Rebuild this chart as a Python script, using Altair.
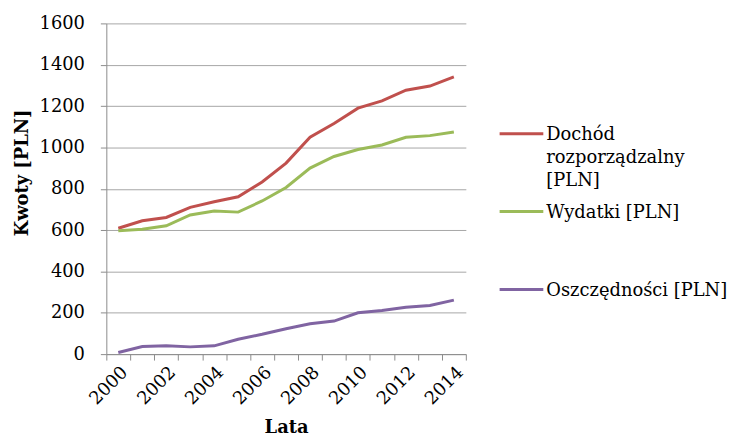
import altair as alt
import pandas as pd

years = list(range(2000, 2015))
dochod = [609, 645, 661, 710, 737, 761, 833, 924, 1049, 1116, 1190, 1225, 1277, 1297, 1341]
wydatki = [597, 604, 621, 673, 692, 687, 741, 806, 900, 956, 990, 1012, 1049, 1057, 1075]
oszczednosci = [8, 37, 40, 35, 40, 72, 96, 123, 147, 160, 200, 211, 227, 235, 261]

series_names = ["Dochód rozporządzalny [PLN]", "Wydatki [PLN]", "Oszczędności [PLN]"]
legend_labels = ["Dochód\nrozporządzalny\n[PLN]", "Wydatki [PLN]", "Oszczędności [PLN]"]
colors = ["#C0504D", "#9BBB59", "#8064A2"]
y_ticks = list(range(0, 1601, 200))

rows = []
for name, vals in zip(series_names, [dochod, wydatki, oszczednosci]):
    for yr, v in zip(years, vals):
        rows.append({"Rok": yr, "Kwota": v, "Seria": name})
df = pd.DataFrame(rows)
leg = pd.DataFrame({"Seria": series_names, "Etykieta": legend_labels})

FONT = "DejaVu Serif"
color_scale = alt.Scale(domain=series_names, range=colors)

lines = alt.Chart(df).mark_line(strokeWidth=3).encode(
    x=alt.X("Rok:O", scale=alt.Scale(paddingInner=0, paddingOuter=0),
            axis=alt.Axis(title="Lata", tickBand="extent", labelAngle=-45,
                          labelAlign="right", labelBaseline="top",
                          labelExpr="datum.value % 2 == 0 ? datum.label : ''",
                          labelFont=FONT, titleFont=FONT,
                          labelPadding=3, titlePadding=11)),
    y=alt.Y("Kwota:Q", scale=alt.Scale(domain=[0, 1600], nice=False),
            axis=alt.Axis(title="Kwoty  [PLN]", values=y_ticks, format="d",
                          labelFont=FONT, titleFont=FONT, titleY=150,
                          labelPadding=16, titlePadding=8)),
    color=alt.Color("Seria:N", scale=color_scale, legend=None),
)

leg_y = alt.Y("Seria:N", scale=alt.Scale(type="point", domain=series_names,
                                          range=[111, 268], padding=0), axis=None)

leg_rules = alt.Chart(leg).mark_rule(strokeWidth=3).encode(
    x=alt.value(396), x2=alt.value(440), y=leg_y,
    color=alt.Color("Seria:N", scale=color_scale, legend=None),
)
leg_text = alt.Chart(leg).mark_text(
    align="left", baseline="alphabetic", dy=6.5, lineBreak="\n", lineHeight=23,
    font=FONT, fontSize=18, color="black",
).encode(x=alt.value(443), y=leg_y, text="Etykieta:N")

chart = alt.layer(lines, leg_rules, leg_text).resolve_scale(y="independent").properties(
    width=362, height=333
).configure(font=FONT).configure_view(stroke=None).configure_axis(
    labelFont=FONT, titleFont=FONT, labelFontSize=18, titleFontSize=18,
    labelColor="black", titleColor="black", titleFontWeight="bold",
    domainColor="#8c8c8c", tickColor="#8c8c8c", gridColor="#a6a6a6",
    tickSize=6,
).configure_axisX(grid=False).configure_axisY(grid=True)

chart.save("out.html", embed_options={"renderer": "svg", "actions": False})
